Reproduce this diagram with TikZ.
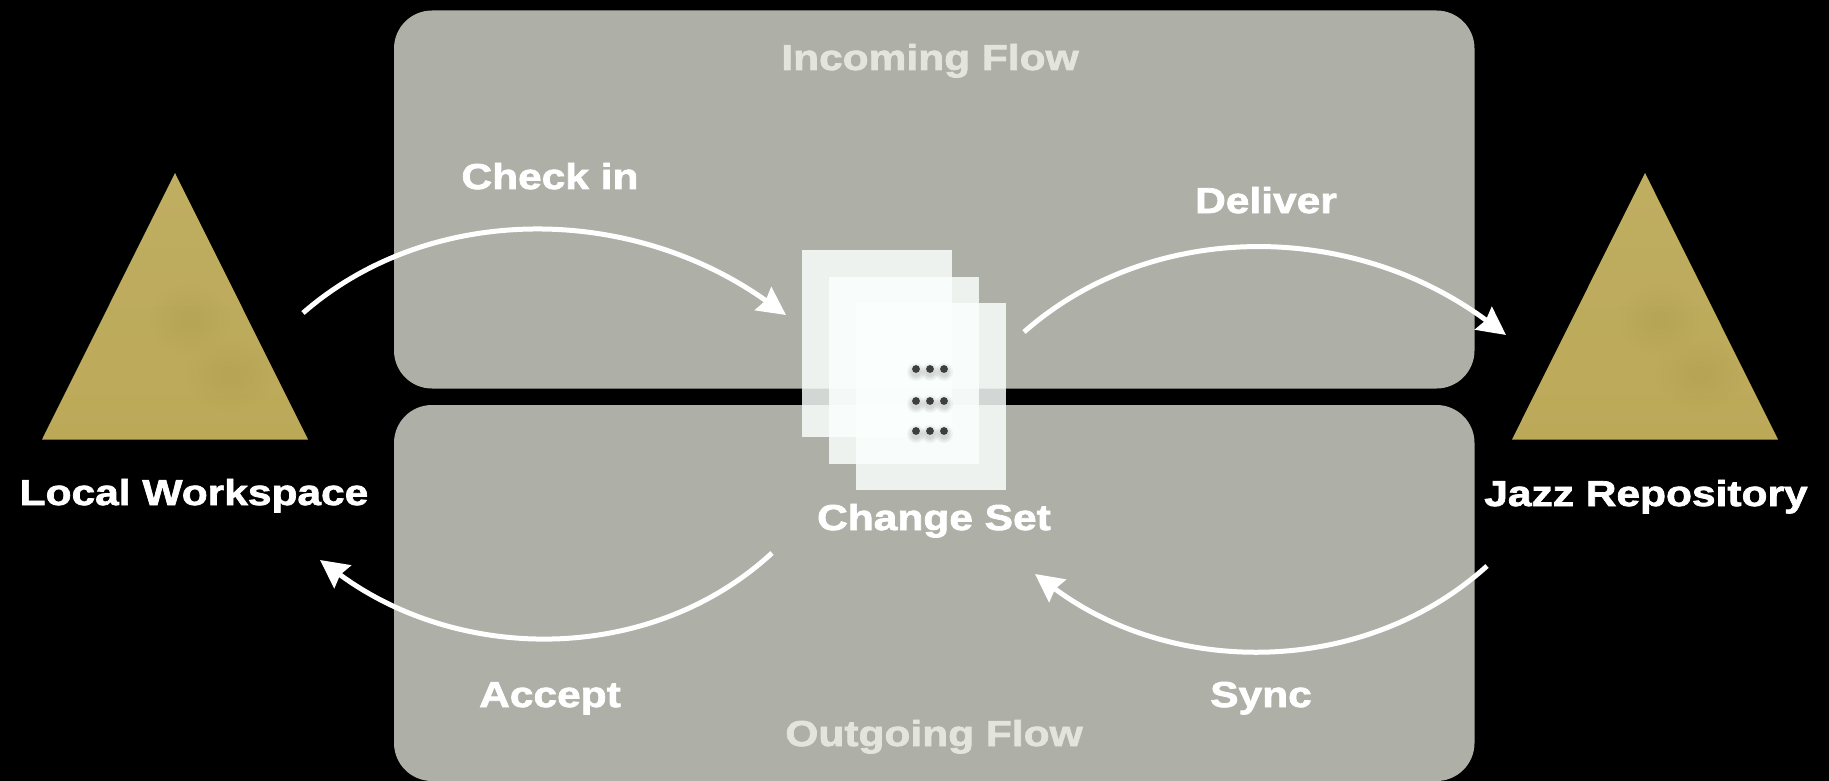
\documentclass[tikz,border=0pt]{standalone}
\usepackage{fontspec}
\setmainfont[FakeStretch=1.18,FakeBold=2]{Liberation Sans Bold}
\usetikzlibrary{arrows.meta,shapes.geometric}
\definecolor{panelc}{HTML}{AEAFA6}
\definecolor{flowc}{HTML}{E3E4DB}
\definecolor{goldtop}{HTML}{BFAD61}
\definecolor{goldbot}{HTML}{BCA958}
\definecolor{blobdark}{HTML}{B5A23F}
\definecolor{bloblight}{HTML}{CDBC7C}
\definecolor{dotc}{HTML}{3E3E3E}
\definecolor{pagec}{HTML}{FBFFFD}
\tikzset{
  panel/.style={fill=panelc,rounded corners=38pt},
  tri/.style={top color=goldtop,bottom color=goldbot,draw=none},
  pagebox/.style={fill=pagec,fill opacity=0.84},
  lab/.style={text=white,anchor=base,inner sep=0pt,font=\fontsize{36}{40}\selectfont},
  flowlab/.style={lab,text=flowc},
  flowarrow/.style={draw=white,line width=5pt,-{Stealth[length=28pt,width=28pt,inset=3pt]}},
  dotmark/.style={fill=dotc},
  dotshade/.style={fill=black,fill opacity=0.04}
}
\newcommand{\dotrow}[1]{%
  \foreach \dx in {916,930,944}{
    \foreach \rr in {9,7.5,6,5}{\fill[dotshade] (\dx,#1+3) circle (\rr pt);}
  }
  \foreach \dx in {916,930,944}{\fill[dotmark] (\dx,#1) circle (3.9pt);}
}
\newcommand{\blob}[5]{% x,y,rx,ry,colour
  \foreach \kk in {1,0.85,0.7,0.55,0.4,0.25}{
    \fill[#5,fill opacity=0.02] (#1,#2) ellipse ({#3*\kk} and {#4*\kk});
  }
}
\newcommand{\goldtri}[1]{%
  \begin{scope}
    \clip (#1,173) -- (#1+133,439.5) -- (#1-133,439.5) -- cycle;
    \fill[tri] (#1-133,173) rectangle (#1+133,439.5);
    \blob{#1-30}{285}{50}{45}{bloblight}
    \blob{#1+15}{320}{40}{35}{blobdark}
    \blob{#1+55}{375}{45}{35}{blobdark}
    \blob{#1-60}{400}{50}{30}{bloblight}
  \end{scope}
}
\begin{document}
\begin{tikzpicture}[x=1pt,y=-1pt]
\useasboundingbox (0,0) rectangle (1829,781);
\clip (0,0) rectangle (1829,781);
\fill[black] (0,0) rectangle (1829,781);
% panels
\path[panel] (394,10.5) rectangle (1474.5,388.5);
\path[panel] (394,405) rectangle (1474.5,781);
% triangles
\goldtri{175}
\goldtri{1645}
% pages
\path[pagebox] (802,250) rectangle (952,437);
\path[pagebox] (829,277) rectangle (979,464);
\path[pagebox] (856,303) rectangle (1006,490);
\dotrow{369}
\dotrow{401}
\dotrow{431}
% labels
\node[flowlab] (incoming) at (930,70) {Incoming Flow};
\node[flowlab] (outgoing) at (934,746) {Outgoing Flow};
\node[lab] (checkin) at (550,189) {Check in};
\node[lab] (deliver) at (1266,213) {Deliver};
\node[lab] (accept) at (550,707) {Accept};
\node[lab] (sync) at (1261,707) {Sync};
\node[lab] (changeset) at (934,530) {Change Set};
\node[lab] (local) at (194,505) {Local Workspace};
\node[lab] (jazz) at (1646,506) {Jazz Repository};
% connector ends
\coordinate (ciA) at (303,313); \coordinate (ciB) at (786,315);
\coordinate (deA) at (1024,332); \coordinate (deB) at (1506,335);
\coordinate (acA) at (772,553); \coordinate (acB) at (320,560);
\coordinate (syA) at (1487,566); \coordinate (syB) at (1035,574);
\draw[flowarrow] (ciA) .. controls (429,203) and (629,203) .. (ciB);
\draw[flowarrow] (deA) .. controls (1151,220) and (1351,220) .. (deB);
\draw[flowarrow] (acA) .. controls (652,664) and (461,664) .. (acB);
\draw[flowarrow] (syA) .. controls (1364,677) and (1173,677) .. (syB);
\end{tikzpicture}
\end{document}
